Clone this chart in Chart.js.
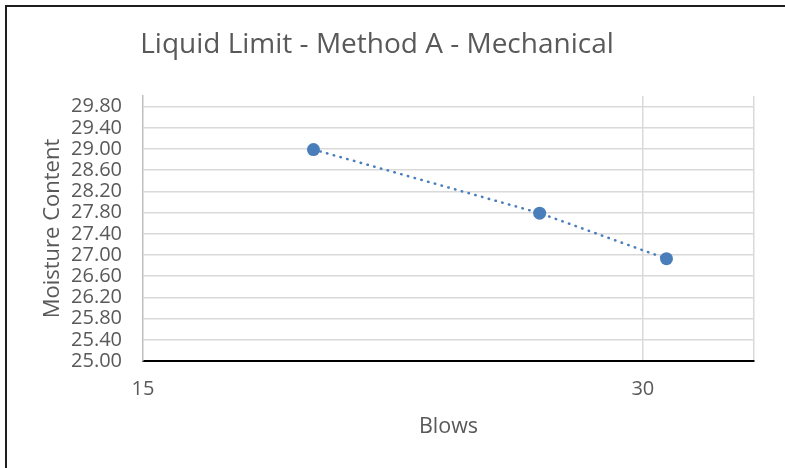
<!DOCTYPE html>
<html>
<head>
<meta charset="utf-8">
<script src="https://cdn.jsdelivr.net/npm/chart.js@4.4.1/dist/chart.umd.min.js"></script>
<style>
    body { margin: 0; background: #fff; }
    canvas { display: block; }
</style>
</head>
<body>
<canvas id="llChart" width="785" height="468"></canvas>
<script>
const blows = [19, 26, 31];
const moisture = [28.99, 27.79, 26.93];
const xTicks = [15, 30];
const yTicks = [25.00, 25.40, 25.80, 26.20, 26.60, 27.00, 27.40, 27.80, 28.20, 28.60, 29.00, 29.40, 29.80];

const textColor = "#595959";
const gridColor = "#d9d9d9";
const font = "'Open Sans', 'Liberation Sans', sans-serif";

// frame line on the top and left, like the cropped excel chart box
const framePlugin = {
    id: "frame",
    beforeDraw(chart) {
        const ctx = chart.ctx;
        ctx.save();
        ctx.fillStyle = "#fff";
        ctx.fillRect(0, 0, chart.width, chart.height);
        ctx.fillStyle = "#1e1e1e";
        ctx.fillRect(5, 5, chart.width - 5, 2);
        ctx.fillRect(5, 5, 2, chart.height - 5);
        ctx.restore();
    }
};

new Chart(document.getElementById("llChart"), {
    type: "scatter",
    data: {
        datasets: [{
            data: blows.map((b, i) => ({ x: b, y: moisture[i] })),
            showLine: true,
            borderColor: "#4a7ebb",
            backgroundColor: "#4a7ebb",
            borderWidth: 2.5,
            borderDash: [0.5, 6.5],
            borderCapStyle: "round",
            pointRadius: 6.5,
            pointHoverRadius: 6.5,
            pointBorderWidth: 0
        }]
    },
    options: {
        responsive: false,
        animation: false,
        layout: { padding: { left: 0, right: 31, top: 0, bottom: 0 } },
        plugins: {
            legend: { display: false },
            tooltip: { enabled: false },
            title: {
                display: true,
                text: "Liquid Limit - Method A - Mechanical",
                color: textColor,
                font: { family: font, size: 28, weight: "normal" },
                padding: { top: 28, bottom: 34.4 }
            }
        },
        scales: {
            x: {
                type: "logarithmic",
                min: 15,
                max: 35,
                afterBuildTicks(scale) {
                    scale.ticks = xTicks.concat([35]).map(v => ({ value: v }));
                },
                afterFit(scale) { scale.height = 107; },
                ticks: {
                    color: textColor,
                    font: { family: font, size: 20 },
                    padding: 16,
                    maxRotation: 0,
                    autoSkip: false,
                    callback: (v) => xTicks.includes(v) ? String(v) : ""
                },
                grid: {
                    drawTicks: false,
                    color: (c) => c.tick && c.tick.value === 15 ? "rgba(0,0,0,0)" : gridColor,
                    lineWidth: 1.5
                },
                border: { color: "#000", width: 2 },
                title: {
                    display: true,
                    text: "Blows",
                    color: textColor,
                    font: { family: font, size: 21.5 },
                    padding: { top: 0, bottom: 28 }
                }
            },
            y: {
                min: 25,
                max: 30,
                afterBuildTicks(scale) {
                    scale.ticks = yTicks.map(v => ({ value: v }));
                },
                afterFit(scale) { scale.width = 143; },
                ticks: {
                    color: textColor,
                    font: { family: font, size: 20 },
                    padding: 21,
                    autoSkip: false,
                    callback: (v) => Number(v).toFixed(2)
                },
                grid: {
                    drawTicks: false,
                    color: (c) => c.tick && c.tick.value === 25 ? "rgba(0,0,0,0)" : gridColor,
                    lineWidth: 1.5
                },
                border: { color: "#bfbfbf", width: 1.5 },
                title: {
                    display: true,
                    text: "Moisture Content",
                    color: textColor,
                    font: { family: font, size: 22 },
                    padding: { top: 40, bottom: 0 }
                }
            }
        }
    },
    plugins: [framePlugin]
});
</script>
</body>
</html>
